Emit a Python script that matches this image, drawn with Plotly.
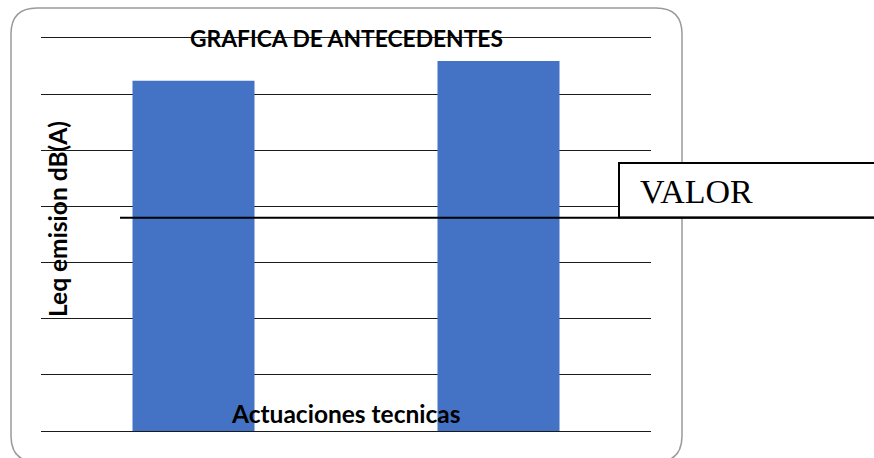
import plotly.graph_objects as go

categories = ["Actuación 1", "Actuación 2"]
values = [62.4, 65.9]
reference_value = 38.0
y_ticks = [0, 10, 20, 30, 40, 50, 60, 70]

W, H = 874, 458
L, R, T, B = 41, 651, 38, 431  # plot area in pixels


def px(x):
    return (x - L) / (R - L)


def py(y):
    return (B - y) / (B - T)


fig = go.Figure()
fig.add_trace(go.Bar(x=categories, y=values, marker=dict(color="#4472C4", line=dict(width=0)),
                     hoverinfo="y"))

fig.update_layout(
    width=W, height=H,
    margin=dict(l=L, r=W - R, t=T, b=H - B, pad=0),
    paper_bgcolor="white", plot_bgcolor="white",
    showlegend=False, bargap=0.6,
    xaxis=dict(showticklabels=False, showgrid=False, zeroline=False, showline=True,
               mirror=True, linecolor="#1a1a1a", linewidth=1.3, ticks=""),
    yaxis=dict(range=[0, 70], tickvals=y_ticks, showticklabels=False, showgrid=True,
               gridcolor="#1a1a1a", gridwidth=1.3, zeroline=False, showline=False, ticks=""),
    font=dict(family="Lato", color="black"),
)

# rounded outer border
x0, x1, y0, y1, r = 11, 682, 8, 462, 26
path = (f"M {px(x0 + r)},{py(y0)} L {px(x1 - r)},{py(y0)} "
        f"Q {px(x1)},{py(y0)} {px(x1)},{py(y0 + r)} L {px(x1)},{py(y1 - r)} "
        f"Q {px(x1)},{py(y1)} {px(x1 - r)},{py(y1)} L {px(x0 + r)},{py(y1)} "
        f"Q {px(x0)},{py(y1)} {px(x0)},{py(y1 - r)} L {px(x0)},{py(y0 + r)} "
        f"Q {px(x0)},{py(y0)} {px(x0 + r)},{py(y0)} Z")
fig.add_shape(type="path", path=path, xref="paper", yref="paper",
              line=dict(color="#9a9a9a", width=1.5), layer="below")

# VALOR box and reference line
fig.add_shape(type="rect", xref="paper", yref="paper",
              x0=px(619), x1=px(880), y0=py(217.5), y1=py(163),
              line=dict(color="black", width=2), fillcolor="white", layer="above")
fig.add_shape(type="line", xref="paper", yref="y",
              x0=px(120), x1=px(880), y0=reference_value, y1=reference_value,
              line=dict(color="black", width=2), layer="above")

fig.add_annotation(text="VALOR", xref="paper", yref="paper", x=px(638), y=py(191),
                   xanchor="left", yanchor="middle", showarrow=False,
                   font=dict(family="Liberation Serif", size=34, color="black"))

fig.add_annotation(text="<b>GRAFICA DE ANTECEDENTES</b>", xref="paper", yref="paper",
                   x=px(346), y=py(38), xanchor="center", yanchor="middle", showarrow=False,
                   font=dict(family="Lato", size=22.8, color="black"))
fig.add_annotation(text="<b>Actuaciones tecnicas</b>", xref="paper", yref="paper",
                   x=px(346), y=py(413), xanchor="center", yanchor="middle", showarrow=False,
                   font=dict(family="Lato", size=24.5, color="black"))
fig.add_annotation(text="<b>Leq emision dB(A)</b>", xref="paper", yref="paper",
                   x=px(58), y=py(219), xanchor="center", yanchor="middle", showarrow=False,
                   textangle=-90, font=dict(family="Lato", size=24.5, color="black"))

fig.write_html("out.html", config={"displayModeBar": False},
               post_script="document.body.style.margin='0';document.body.style.overflow='hidden';")
